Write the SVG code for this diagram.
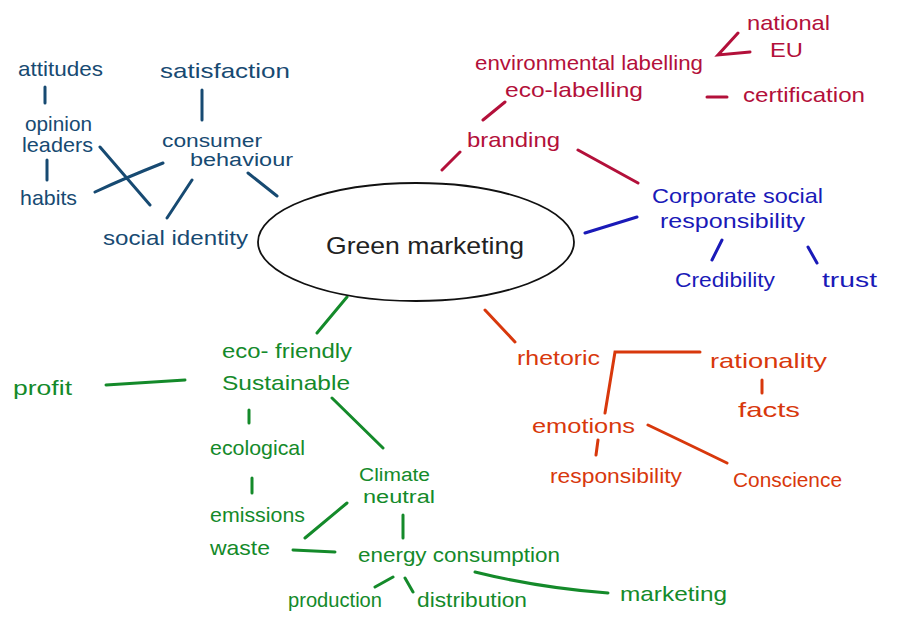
<svg xmlns="http://www.w3.org/2000/svg" width="900" height="623" viewBox="0 0 900 623">
<style>
text{font-family:"Liberation Sans","DejaVu Sans",sans-serif;font-size:21px;}
.db{fill:#174a72}.cr{fill:#b3103a}.bl{fill:#1a1ab8}.gr{fill:#148a2a}.or{fill:#d8380c}
.s{font-size:18px}
.l{fill:none;stroke-width:3;stroke-linecap:round}
.ldb{stroke:#174a72}.lcr{stroke:#b3103a}.lbl{stroke:#1a1ab8}.lgr{stroke:#148a2a}.lor{stroke:#d8380c}
</style>
<rect width="900" height="623" fill="#ffffff"/>
<g id="connectors">
<path class="l ldb" d="M45 87V103M47 160V180M202 90V120M100 147L150 205M163 163Q125 178 95 192M192 180L167 218M248 173L277 196"/>
<path class="l lcr" d="M738 33L718 55L750 52M707 97H727M505 102L483 120M460 152L442 170M578 150L638 183"/>
<path class="l lbl" d="M637 217L585 233M722 240L712 260M808 247L817 263"/>
<path class="l lgr" d="M347 297L317 333M106 385L185 380M249 410V423M332 398L383 448M252 478V493M347 503L305 538M293 550L335 552M403 515V538M393 577L375 587M405 578L413 592M475 572Q540 588 608 593"/>
<path class="l lor" d="M485 310L515 342M700 352H615L605 413M762 380V393M598 440L596 455M648 425Q690 445 727 463"/>
</g>
<g id="green-marketing">
<ellipse cx="416" cy="242" rx="158" ry="59" fill="none" stroke="#111" stroke-width="1.8"/>
<text x="326" y="254" textLength="198" lengthAdjust="spacingAndGlyphs" style="font-size:24px;fill:#222">Green marketing</text>
</g>
<g id="consumer">
<text class="db" x="18" y="76" textLength="85" lengthAdjust="spacingAndGlyphs">attitudes</text>
<text class="db" x="160" y="78" textLength="130" lengthAdjust="spacingAndGlyphs">satisfaction</text>
<text class="db" x="25" y="131" textLength="67" lengthAdjust="spacingAndGlyphs">opinion</text>
<text class="db" x="22" y="152" textLength="71" lengthAdjust="spacingAndGlyphs">leaders</text>
<text class="db s" x="162" y="147" textLength="100" lengthAdjust="spacingAndGlyphs">consumer</text>
<text class="db s" x="190" y="166" textLength="103" lengthAdjust="spacingAndGlyphs">behaviour</text>
<text class="db" x="20" y="205" textLength="57" lengthAdjust="spacingAndGlyphs">habits</text>
<text class="db" x="103" y="245" textLength="145" lengthAdjust="spacingAndGlyphs">social identity</text>
</g>
<g id="branding">
<text class="cr" x="747" y="30" textLength="83" lengthAdjust="spacingAndGlyphs">national</text>
<text class="cr" x="770" y="57" textLength="33" lengthAdjust="spacingAndGlyphs">EU</text>
<text class="cr" x="475" y="70" textLength="228" lengthAdjust="spacingAndGlyphs">environmental labelling</text>
<text class="cr" x="505" y="97" textLength="138" lengthAdjust="spacingAndGlyphs">eco-labelling</text>
<text class="cr" x="743" y="102" textLength="122" lengthAdjust="spacingAndGlyphs">certification</text>
<text class="cr" x="467" y="147" textLength="93" lengthAdjust="spacingAndGlyphs">branding</text>
</g>
<g id="csr">
<text class="bl" x="652" y="203" textLength="171" lengthAdjust="spacingAndGlyphs">Corporate social</text>
<text class="bl" x="660" y="228" textLength="145" lengthAdjust="spacingAndGlyphs">responsibility</text>
<text class="bl" x="675" y="287" textLength="100" lengthAdjust="spacingAndGlyphs">Credibility</text>
<text class="bl" x="822" y="287" textLength="55" lengthAdjust="spacingAndGlyphs">trust</text>
</g>
<g id="sustainable">
<text class="gr" x="222" y="358" textLength="130" lengthAdjust="spacingAndGlyphs">eco- friendly</text>
<text class="gr" x="222" y="390" textLength="128" lengthAdjust="spacingAndGlyphs">Sustainable</text>
<text class="gr" x="13" y="395" textLength="59" lengthAdjust="spacingAndGlyphs">profit</text>
<text class="gr" x="210" y="455" textLength="95" lengthAdjust="spacingAndGlyphs">ecological</text>
<text class="gr s" x="359" y="481" textLength="71" lengthAdjust="spacingAndGlyphs">Climate</text>
<text class="gr s" x="363" y="503" textLength="72" lengthAdjust="spacingAndGlyphs">neutral</text>
<text class="gr" x="210" y="522" textLength="95" lengthAdjust="spacingAndGlyphs">emissions</text>
<text class="gr" x="210" y="555" textLength="60" lengthAdjust="spacingAndGlyphs">waste</text>
<text class="gr" x="358" y="562" textLength="202" lengthAdjust="spacingAndGlyphs">energy consumption</text>
<text class="gr" x="288" y="607" textLength="94" lengthAdjust="spacingAndGlyphs">production</text>
<text class="gr" x="417" y="607" textLength="110" lengthAdjust="spacingAndGlyphs">distribution</text>
<text class="gr" x="620" y="601" textLength="107" lengthAdjust="spacingAndGlyphs">marketing</text>
</g>
<g id="rhetoric">
<text class="or" x="517" y="365" textLength="83" lengthAdjust="spacingAndGlyphs">rhetoric</text>
<text class="or" x="710" y="368" textLength="117" lengthAdjust="spacingAndGlyphs">rationality</text>
<text class="or" x="738" y="417" textLength="62" lengthAdjust="spacingAndGlyphs">facts</text>
<text class="or" x="532" y="433" textLength="103" lengthAdjust="spacingAndGlyphs">emotions</text>
<text class="or" x="550" y="483" textLength="132" lengthAdjust="spacingAndGlyphs">responsibility</text>
<text class="or" x="733" y="487" textLength="109" lengthAdjust="spacingAndGlyphs">Conscience</text>
</g>
</svg>
